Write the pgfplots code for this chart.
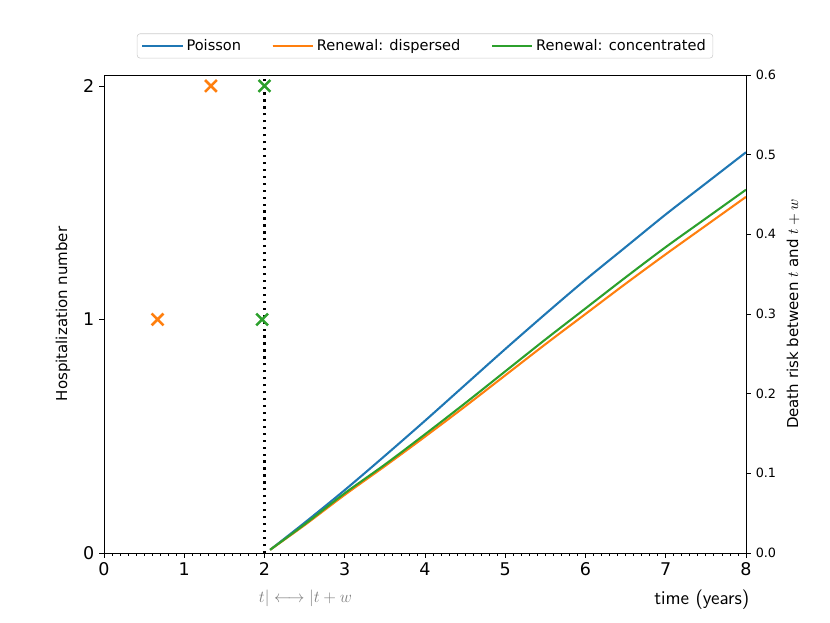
\documentclass[border=0pt]{standalone}
\usepackage{fontspec}
\setmainfont{DejaVu Sans}
\usepackage{pgfplots}
\pgfplotsset{compat=1.18}
\definecolor{tabblue}{HTML}{1F77B4}
\definecolor{taborange}{HTML}{FF7F0E}
\definecolor{tabgreen}{HTML}{2CA02C}
\begin{document}
\begin{tikzpicture}
\begin{axis}[
  at={(0,0)}, anchor=south west,
  scale only axis, width=462.24pt, height=344.16pt,
  xmin=0, xmax=8, ymin=0, ymax=2.047,
  xtick={0,1,2,3,4,5,6,7,8}, ytick={0,1,2},
  minor x tick num=9,
  xtick pos=left, ytick pos=left,
  tick align=outside, major tick length=3.5pt, minor tick length=2pt,
  every tick/.style={black, line width=0.6pt},
  axis line style={line width=0.6pt},
  /pgf/number format/assume math mode=true,
  tick label style={font=\fontsize{12.6}{15}\selectfont},
  ylabel={Hospitalization number},
  ylabel style={font=\fontsize{10.8}{13}\selectfont, at={(axis description cs:-0.0638,0.5)}, anchor=center},
  clip=false,
]
\addplot[black, line width=1.5pt, dash pattern=on 1.6pt off 3.4pt] coordinates {(2,0) (2,2.04)};
\addplot[only marks, mark=x, mark size=6pt, taborange, line width=1.8pt] coordinates {(0.667,1) (1.333,2)};
\addplot[only marks, mark=x, mark size=6pt, tabgreen, line width=1.8pt] coordinates {(1.97,1) (2.0,2)};
\node[gray, font=\fontsize{12.8}{15}\selectfont, anchor=center] at (axis cs:2.51,0) [yshift=-32.4pt] {$t|\longleftrightarrow|t+w$};
\node[font=\sffamily\fontsize{14}{16}\selectfont, anchor=center] at (axis cs:7.45,0) [yshift=-33.8pt] {time (years)};
\end{axis}
\begin{axis}[
  at={(0,0)}, anchor=south west,
  scale only axis, width=462.24pt, height=344.16pt,
  xmin=0, xmax=8, ymin=0, ymax=0.6,
  axis x line=none, axis y line*=right,
  ytick={0,0.1,0.2,0.3,0.4,0.5,0.6},
  tick align=outside, major tick length=3.5pt,
  every tick/.style={black, line width=0.6pt},
  axis line style={line width=0.6pt},
  /pgf/number format/assume math mode=true,
  yticklabel style={font=\fontsize{9.2}{11}\selectfont, /pgf/number format/.cd, fixed, precision=1, fixed zerofill},
  ylabel={Death risk between $t$ and $t+w$},
  ylabel style={font=\fontsize{10.8}{13}\selectfont, at={(axis description cs:1.0732,0.5)}, anchor=center},
  legend columns=3,
  legend cell align=left,
  legend style={at={(axis description cs:0.5,1)}, anchor=south, yshift=12pt,
    draw=black!20, rounded corners=2pt, font=\fontsize{10.5}{12.6}\selectfont,
    inner xsep=3pt, inner ysep=2pt,
    /tikz/every even column/.append style={column sep=20pt}},
  legend image code/.code={\draw[#1] (0pt,0pt) -- (24pt,0pt); \path (0pt,0pt) -- (29pt,0pt);},
]
\addplot[tabblue, line width=1.5pt, smooth] coordinates {(2.07,0.004) (2.5,0.038) (3,0.079) (3.5,0.122) (4,0.166) (4.5,0.211) (5,0.256) (5.5,0.300) (6,0.343) (6.5,0.384) (7,0.425) (7.5,0.464) (8,0.503)};
\addlegendentry{Poisson}
\addplot[taborange, line width=1.5pt, smooth] coordinates {(2.07,0.004) (2.5,0.035) (3,0.073) (3.5,0.109) (4,0.146) (4.5,0.184) (5,0.223) (5.5,0.262) (6,0.300) (6.5,0.338) (7,0.375) (7.5,0.411) (8,0.447)};
\addlegendentry{Renewal: dispersed}
\addplot[tabgreen, line width=1.5pt, smooth] coordinates {(2.07,0.004) (2.5,0.036) (3,0.075) (3.5,0.111) (4,0.149) (4.5,0.188) (5,0.228) (5.5,0.268) (6,0.307) (6.5,0.346) (7,0.384) (7.5,0.420) (8,0.456)};
\addlegendentry{Renewal: concentrated}
\end{axis}
\pgfresetboundingbox
\path[use as bounding box] (-74.88pt,-50.4pt) rectangle ++(597.6pt,448.56pt);
\end{tikzpicture}
\end{document}
